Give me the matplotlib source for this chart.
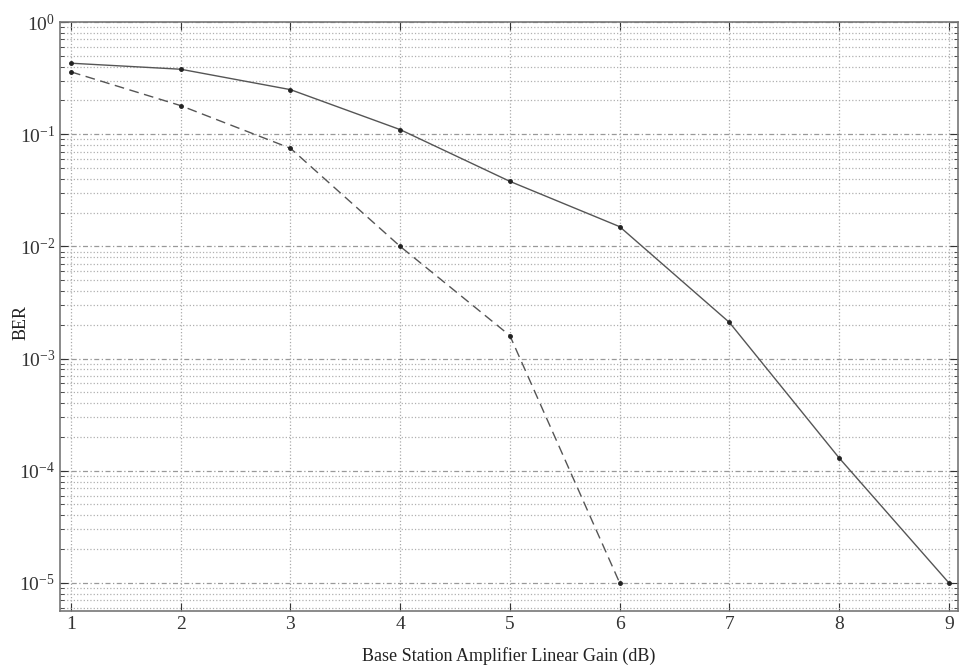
import matplotlib
matplotlib.use("Agg")
import matplotlib.pyplot as plt
from matplotlib.ticker import LogLocator, NullFormatter

gain_db = [1, 2, 3, 4, 5, 6, 7, 8, 9]
ber_solid = [0.43, 0.38, 0.25, 0.11, 0.038, 0.015, 0.0021, 1.3e-4, 1.0e-5]
gain_db_dashed = [1, 2, 3, 4, 5, 6]
ber_dashed = [0.36, 0.18, 0.075, 0.010, 0.0016, 1.0e-5]

plt.rcParams["font.family"] = ["Liberation Serif", "DejaVu Serif"]
plt.rcParams["mathtext.fontset"] = "stix"

fig = plt.figure(figsize=(9.6, 6.7), dpi=100)
ax = fig.add_axes([0.0625, 0.088, 0.935, 0.879])

ax.semilogy(gain_db, ber_solid, color="#555555", linewidth=1.0,
            marker="o", markersize=2.5, markerfacecolor="#222222",
            markeredgecolor="#222222")
ax.semilogy(gain_db_dashed, ber_dashed, color="#555555", linewidth=1.0,
            linestyle=(0, (7, 4)), marker="o", markersize=2.5,
            markerfacecolor="#222222", markeredgecolor="#222222")

ax.set_xlim(0.9, 9.08)
ax.set_ylim(5.6e-6, 1.0)
ax.set_xticks(gain_db)
ax.yaxis.set_major_locator(LogLocator(base=10, numticks=10))
ax.yaxis.set_minor_locator(LogLocator(base=10, subs=range(2, 10), numticks=100))
ax.yaxis.set_minor_formatter(NullFormatter())

ax.grid(True, which="major", axis="x", color="#aaaaaa", linestyle=":", linewidth=0.9)
ax.grid(True, which="major", axis="y", color="#999999", linestyle=(0, (4, 2, 1, 2)), linewidth=0.9)
ax.grid(True, which="minor", axis="y", color="#b0b0b0", linestyle=":", linewidth=0.9)

ax.tick_params(which="both", direction="in", top=True, right=True, labelsize=14, colors="#333333")
ax.tick_params(which="major", length=6)
ax.tick_params(which="minor", length=3)
for spine in ax.spines.values():
    spine.set_color("#777777")
    spine.set_linewidth(1.2)

ax.set_xlabel("Base Station Amplifier Linear Gain (dB)", fontsize=13, color="#222222", labelpad=10)
ax.set_ylabel("BER", fontsize=13, color="#222222")
ax.yaxis.set_label_coords(-0.034, 0.49)

fig.savefig("out.png", dpi=100)
